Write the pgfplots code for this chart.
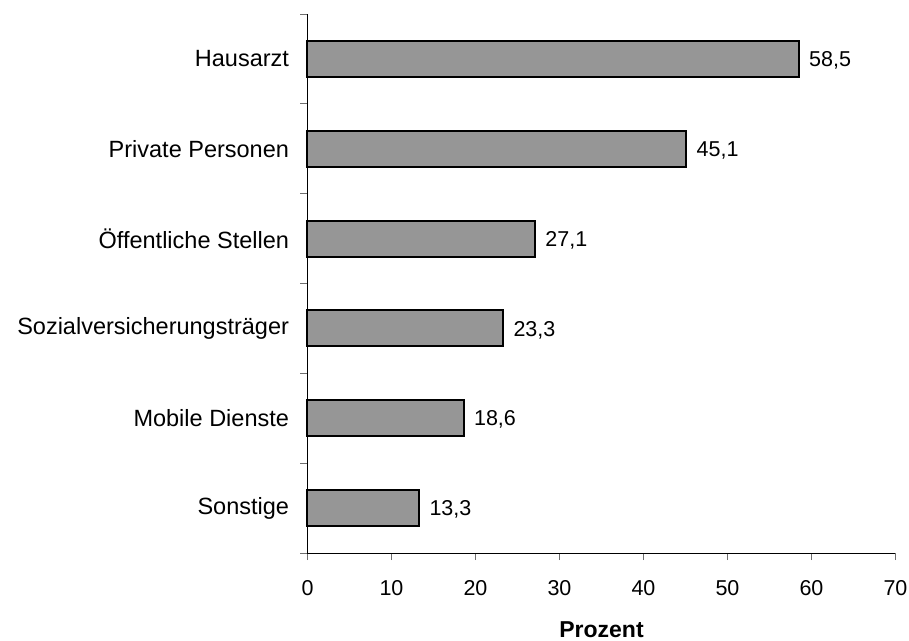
\documentclass[border=0pt]{standalone}
\usepackage{fontspec}
\setmainfont{Liberation Sans}
\usepackage{pgfplots}
\pgfplotsset{compat=1.18}
\definecolor{barfill}{RGB}{150,150,150}
\definecolor{tickgray}{RGB}{110,110,110}
\begin{document}
\begin{tikzpicture}
\begin{axis}[
  scale only axis,
  width=588bp, height=539bp,
  xbar,
  xmin=0, xmax=70,
  ymin=-0.5, ymax=5.5,
  bar width=0.4,
  axis x line*=bottom,
  axis y line*=left,
  axis line style={line width=1bp, black},
  xtick={0,10,...,70},
  ytick={0,1,2,3,4,5},
  yticklabels={Sonstige,Mobile Dienste,Sozialversicherungsträger,Öffentliche Stellen,Private Personen,Hausarzt},
  y tick style={draw=none},
  x tick style={line width=1bp, tickgray},
  tick align=outside,
  major tick length=7bp,
  extra y ticks={-0.5,0.5,1.5,2.5,3.5,4.5,5.5},
  extra y tick labels={},
  extra y tick style={y tick style={draw=tickgray, line width=1bp}, major tick length=7bp},
  /pgf/number format/assume math mode=true,
  xticklabel style={font=\fontsize{21.5bp}{25bp}\selectfont, yshift=-17bp},
  yticklabel style={font=\fontsize{23.5bp}{28bp}\selectfont, xshift=-8bp},
  nodes near coords,
  nodes near coords style={font=\fontsize{21.5bp}{25bp}\selectfont, black, xshift=6bp, yshift=-1.5bp,
    /pgf/number format/.cd, use comma, fixed, fixed zerofill, precision=1, assume math mode=true},
  xlabel={Prozent},
  xlabel style={font=\fontsize{23bp}{27bp}\selectfont\bfseries, at={(rel axis cs:0.5,0)}, anchor=base, yshift=-84bp},
  clip=false,
]
\addplot[fill=barfill, draw=black, line width=2bp] coordinates {
  (13.3,0) (18.6,1) (23.3,2) (27.1,3) (45.1,4) (58.5,5)
};
\coordinate (o) at (rel axis cs:0,0);
\end{axis}
\pgfresetboundingbox
\path (o) ++(-307.5bp,-88bp) rectangle ++(909bp,641bp);
\end{tikzpicture}
\end{document}
